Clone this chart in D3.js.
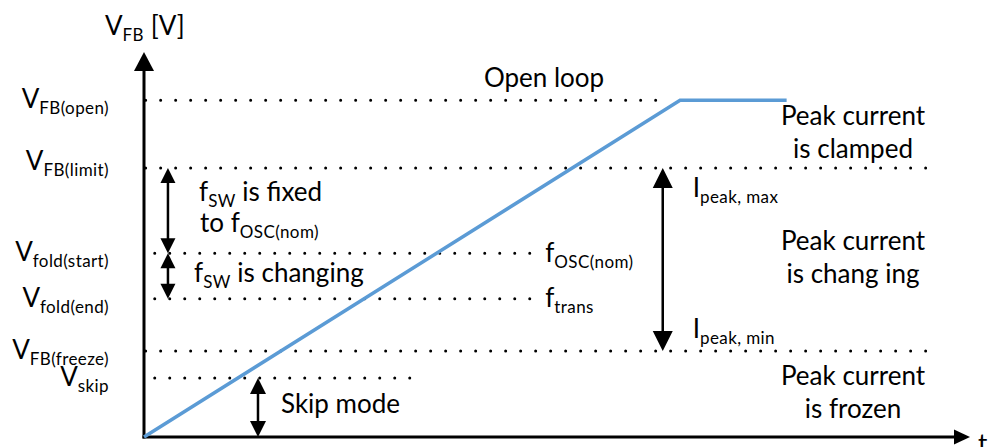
<!DOCTYPE html>
<html>
<head>
<meta charset="utf-8">
<script src="https://cdn.jsdelivr.net/npm/d3@7"></script>
<style>
	body { margin: 0; background: #fff; }
	text { font-family: Lato, "Open Sans", sans-serif; fill: #000; }
</style>
</head>
<body>
<div id="chart"></div>
<script>
	"use strict";

	// feedback voltage levels (arbitrary volts) and their label subscripts
	var levelNames = ["FB(open)", "FB(limit)", "fold(start)", "fold(end)", "FB(freeze)", "skip"],
		levelValues = [3.48, 2.78, 1.90, 1.43, 0.89, 0.61],
		levelStart = [0.02, 0.02, 0.13, 0.13, 0.02, 0.13],
		levelEnd = [6.33, 9.6, 4.7, 4.7, 9.6, 3.38];

	// V_FB over time
	var traceT = [0, 6.49, 7.78],
		traceV = [0, 3.48, 3.48];

	// double arrows: time position, from level, to level
	var arrowT = [0.29, 0.29, 6.28, 1.38],
		arrowFrom = [2.78, 1.90, 2.78, 0.61],
		arrowTo = [1.90, 1.43, 0.89, 0],
		arrowSize = [15, 15, 20, 16];

	var width = 999,
		height = 447,
		x = d3.scaleLinear().domain([0, 10]).range([144, 970]),
		y = d3.scaleLinear().domain([0, 4]).range([437, 50]);

	var svg = d3.select("#chart")
		.append("svg")
		.attr("width", width)
		.attr("height", height);

	function tri(px, py, dir, w, l) {
		// dir: 1 = pointing down, -1 = pointing up
		return "M" + px + "," + py + "L" + (px - w / 2) + "," + (py - dir * l) +
			"L" + (px + w / 2) + "," + (py - dir * l) + "Z";
	}
	function triH(px, py, w, l) {
		return "M" + px + "," + py + "L" + (px - l) + "," + (py - w / 2) +
			"L" + (px - l) + "," + (py + w / 2) + "Z";
	}

	// dotted level lines
	svg.append("g")
		.selectAll("line")
		.data(levelValues)
		.enter()
		.append("line")
		.attr("x1", function(d, i) { return x(levelStart[i]); })
		.attr("x2", function(d, i) { return x(levelEnd[i]); })
		.attr("y1", function(d) { return y(d); })
		.attr("y2", function(d) { return y(d); })
		.attr("stroke", "#000")
		.attr("stroke-width", 3)
		.attr("stroke-linecap", "round")
		.attr("stroke-dasharray", "0,15");

	// axes
	var axes = svg.append("g");
	axes.append("line")
		.attr("x1", x(0)).attr("x2", x(0))
		.attr("y1", y(0) + 1.5).attr("y2", y(4) + 16)
		.attr("stroke", "#000").attr("stroke-width", 3);
	axes.append("path")
		.attr("d", tri(x(0), y(4) + 2, -1, 20, 19));
	axes.append("line")
		.attr("x1", x(0) - 1.5).attr("x2", x(10) - 12)
		.attr("y1", y(0)).attr("y2", y(0))
		.attr("stroke", "#000").attr("stroke-width", 3);
	axes.append("path")
		.attr("d", triH(x(10), y(0), 15, 16));

	// trace
	var line = d3.line()
		.x(function(d, i) { return x(traceT[i]); })
		.y(function(d) { return y(d); });
	svg.append("path")
		.datum(traceV)
		.attr("d", line)
		.attr("fill", "none")
		.attr("stroke", "#5b9bd5")
		.attr("stroke-width", 3.5)
		.attr("stroke-linejoin", "miter");

	// double arrows
	var arrowG = svg.append("g")
		.selectAll("g")
		.data(arrowT)
		.enter()
		.append("g");
	arrowG.append("line")
		.attr("x1", function(d) { return x(d); })
		.attr("x2", function(d) { return x(d); })
		.attr("y1", function(d, i) { return y(arrowFrom[i]) + arrowSize[i] - 2; })
		.attr("y2", function(d, i) { return y(arrowTo[i]) - arrowSize[i] + 2; })
		.attr("stroke", "#000")
		.attr("stroke-width", 2.5);
	arrowG.append("path")
		.attr("d", function(d, i) { return tri(x(d), y(arrowFrom[i]), -1, arrowSize[i], arrowSize[i]); });
	arrowG.append("path")
		.attr("d", function(d, i) { return tri(x(d), y(arrowTo[i]), 1, arrowSize[i], arrowSize[i]); });

	// text helper: main text with optional subscript and trailing text
	function label(px, py, main, sub, tail, anchor) {
		var t = svg.append("text")
			.attr("x", px)
			.attr("y", py)
			.attr("text-anchor", anchor || "start")
			.style("font-size", "26px");
		t.append("tspan").text(main);
		if (sub) {
			t.append("tspan")
				.attr("dy", 6)
				.style("font-size", "17px")
				.style("letter-spacing", "0.4px")
				.text(sub);
		}
		if (tail) {
			t.append("tspan")
				.attr("dy", sub ? -6 : 0)
				.text(tail);
		}
		return t;
	}

	// y axis title and t
	label(105, 35, "V", "FB", " [V]");
	label(x(10) + 8, 453, "t");

	// level labels
	levelNames.forEach(function(n, i) {
		var dy = n === "FB(limit)" ? 2 : 8;
		label(109, y(levelValues[i]) + dy, "V", n, null, "end");
	});

	// annotations
	label(544, 87, "Open loop", null, null, "middle");
	label(199, 201, "f", "SW", " is fixed");
	label(200, 232, "to f", "OSC(nom)");
	label(194, 282, "f", "SW", " is changing");
	label(x(levelEnd[2]) + 13, y(levelValues[2]) + 9, "f", "OSC(nom)");
	label(x(levelEnd[3]) + 13, y(levelValues[3]) + 8, "f", "trans");
	label(x(arrowT[2]) + 30, 197, "I", "peak, max");
	label(x(arrowT[2]) + 30, 338, "I", "peak, min");
	label(281, 413, "Skip mode");

	var regions = [["Peak current", "is clamped", 125], ["Peak current", "is chang ing", 250], ["Peak current", "is frozen", 385]];
	regions.forEach(function(r) {
		label(853, r[2], r[0], null, null, "middle");
		label(853, r[2] + 33, r[1], null, null, "middle");
	});
</script>
</body>
</html>
